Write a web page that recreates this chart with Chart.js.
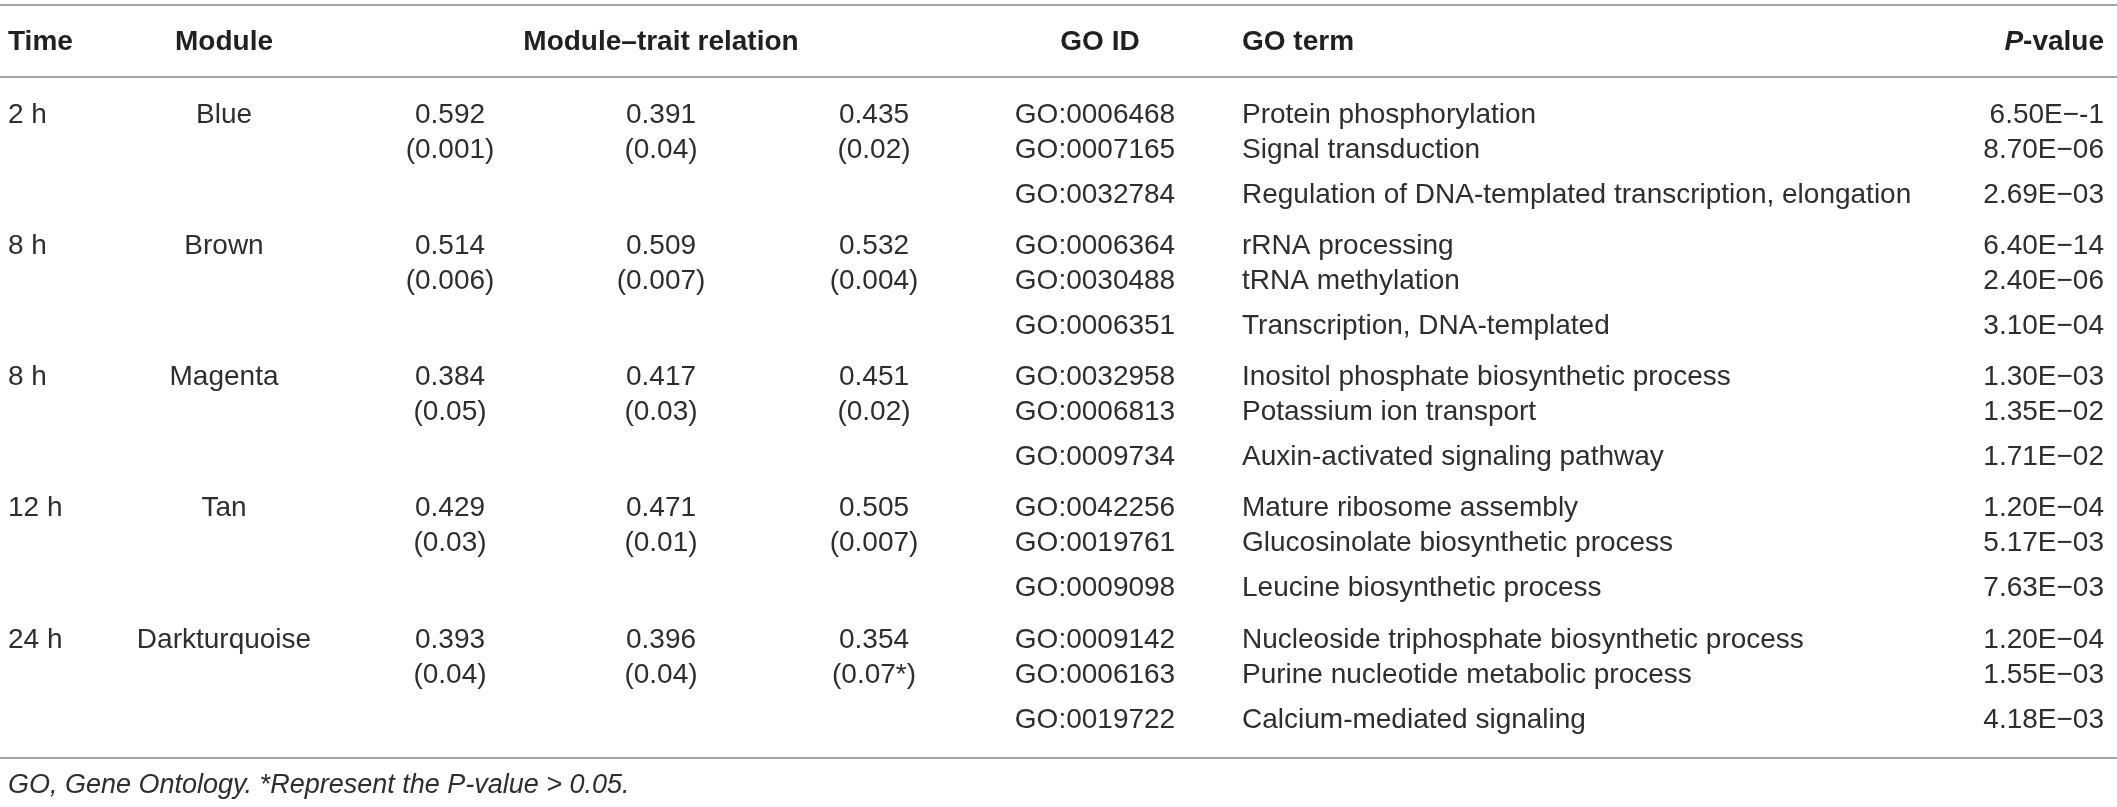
<!DOCTYPE html>
<html>
<head>
<meta charset="utf-8">
<script src="https://cdn.jsdelivr.net/npm/chart.js@4.4.1/dist/chart.umd.min.js"></script>
<style>
    html, body { margin: 0; padding: 0; background: #fff; }
    #wrap { width: 2117px; height: 807px; position: relative; }
</style>
</head>
<body>
<div id="wrap"><canvas id="goTable"></canvas></div>
<script>
// table content
const times = ['2 h', '8 h', '8 h', '12 h', '24 h'];
const modules = ['Blue', 'Brown', 'Magenta', 'Tan', 'Darkturquoise'];
const trait1 = [0.592, 0.514, 0.384, 0.429, 0.393];
const trait2 = [0.391, 0.509, 0.417, 0.471, 0.396];
const trait3 = [0.435, 0.532, 0.451, 0.505, 0.354];
const trait1P = ['0.001', '0.006', '0.05', '0.03', '0.04'];
const trait2P = ['0.04', '0.007', '0.03', '0.01', '0.04'];
const trait3P = ['0.02', '0.004', '0.02', '0.007', '0.07*'];
const goIds = [
    ['GO:0006468', 'GO:0007165', 'GO:0032784'],
    ['GO:0006364', 'GO:0030488', 'GO:0006351'],
    ['GO:0032958', 'GO:0006813', 'GO:0009734'],
    ['GO:0042256', 'GO:0019761', 'GO:0009098'],
    ['GO:0009142', 'GO:0006163', 'GO:0019722']
];
const goTerms = [
    ['Protein phosphorylation', 'Signal transduction', 'Regulation of DNA-templated transcription, elongation'],
    ['rRNA processing', 'tRNA methylation', 'Transcription, DNA-templated'],
    ['Inositol phosphate biosynthetic process', 'Potassium ion transport', 'Auxin-activated signaling pathway'],
    ['Mature ribosome assembly', 'Glucosinolate biosynthetic process', 'Leucine biosynthetic process'],
    ['Nucleoside triphosphate biosynthetic process', 'Purine nucleotide metabolic process', 'Calcium-mediated signaling']
];
const pValues = [
    ['6.50E\u2212-1', '8.70E\u221206', '2.69E\u221203'],
    ['6.40E\u221214', '2.40E\u221206', '3.10E\u221204'],
    ['1.30E\u221203', '1.35E\u221202', '1.71E\u221202'],
    ['1.20E\u221204', '5.17E\u221203', '7.63E\u221203'],
    ['1.20E\u221204', '1.55E\u221203', '4.18E\u221203']
];
const headers = ['Time', 'Module', 'Module\u2013trait relation', 'GO ID', 'GO term', 'P-value'];
const footnote = 'GO, Gene Ontology. *Represent the P-value > 0.05.';

// layout (x in px, y in row-group units)
const colX = { time: 8, module: 224, t1: 450, t2: 661, t3: 874, goId: 1095, goIdHead: 1100, goTerm: 1242, pval: 2104 };
const firstRowPx = 115, groupPx = 131.25;
const subLine = [0, 35 / groupPx, 80 / groupPx];
const headY = -73 / groupPx;
const rules = [-110 / groupPx, -38 / groupPx, 643 / groupPx];
const noteY = 670 / groupPx;

const FONT = '"Liberation Sans", Arial, Helvetica, sans-serif';
const HEAD_INK = '#231f20';
const BODY_INK = '#2e2e2e';

function column(key, align, font, ink, cells) {
    return {
        data: cells.map(c => ({ x: colX[key], y: c[0], text: c[1], parts: c[2] })),
        align: align,
        font: font,
        ink: ink,
        pointRadius: 0,
        showLine: false
    };
}

const body = '28px ' + FONT;
const bold = 'bold 28px ' + FONT;

const datasets = [
    column('time', 'left', bold, HEAD_INK, [[headY, headers[0]]]),
    column('module', 'center', bold, HEAD_INK, [[headY, headers[1]]]),
    column('t2', 'center', bold, HEAD_INK, [[headY, headers[2]]]),
    column('goIdHead', 'center', bold, HEAD_INK, [[headY, headers[3]]]),
    column('goTerm', 'left', bold, HEAD_INK, [[headY, headers[4]]]),
    column('pval', 'right', bold, HEAD_INK, [[headY, headers[5], [['P', 'italic bold 28px ' + FONT], ['-value', bold]]]]),
    column('time', 'left', body, BODY_INK, times.map((t, g) => [g, t])),
    column('module', 'center', body, BODY_INK, modules.map((m, g) => [g, m])),
    column('t1', 'center', body, BODY_INK, trait1.map((v, g) => [g, v.toFixed(3)]).concat(trait1P.map((p, g) => [g + subLine[1], '(' + p + ')']))),
    column('t2', 'center', body, BODY_INK, trait2.map((v, g) => [g, v.toFixed(3)]).concat(trait2P.map((p, g) => [g + subLine[1], '(' + p + ')']))),
    column('t3', 'center', body, BODY_INK, trait3.map((v, g) => [g, v.toFixed(3)]).concat(trait3P.map((p, g) => [g + subLine[1], '(' + p + ')']))),
    column('goId', 'center', body, BODY_INK, goIds.flatMap((ids, g) => ids.map((id, k) => [g + subLine[k], id]))),
    column('goTerm', 'left', body, BODY_INK, goTerms.flatMap((ts, g) => ts.map((t, k) => [g + subLine[k], t]))),
    column('pval', 'right', body, BODY_INK, pValues.flatMap((ps, g) => ps.map((p, k) => [g + subLine[k], p]))),
    column('time', 'left', 'italic 27px ' + FONT, BODY_INK, [[noteY, footnote]])
];

const tableRules = {
    id: 'tableRules',
    beforeDatasetsDraw(chart) {
        const ctx = chart.ctx;
        const y = chart.scales.y;
        ctx.save();
        ctx.strokeStyle = '#a3a3a3';
        ctx.lineWidth = 2;
        rules.forEach(r => {
            const py = Math.round(y.getPixelForValue(r));
            ctx.beginPath();
            ctx.moveTo(chart.chartArea.left, py);
            ctx.lineTo(chart.chartArea.right, py);
            ctx.stroke();
        });
        ctx.restore();
    }
};

const tableText = {
    id: 'tableText',
    afterDatasetsDraw(chart) {
        const ctx = chart.ctx;
        ctx.save();
        ctx.textBaseline = 'middle';
        chart.data.datasets.forEach((ds, i) => {
            const meta = chart.getDatasetMeta(i);
            ctx.fillStyle = ds.ink;
            meta.data.forEach((pt, j) => {
                const cell = ds.data[j];
                if (cell.parts) {
                    // mixed italic/bold header
                    let w = 0;
                    cell.parts.forEach(p => { ctx.font = p[1]; w += ctx.measureText(p[0]).width; });
                    let x = ds.align === 'right' ? pt.x - w : ds.align === 'center' ? pt.x - w / 2 : pt.x;
                    ctx.textAlign = 'left';
                    cell.parts.forEach(p => {
                        ctx.font = p[1];
                        ctx.fillText(p[0], x, pt.y);
                        x += ctx.measureText(p[0]).width;
                    });
                } else {
                    ctx.font = ds.font;
                    ctx.textAlign = ds.align;
                    ctx.fillText(cell.text, pt.x, pt.y);
                }
            });
        });
        ctx.restore();
    }
};

const ctx = document.getElementById('goTable').getContext('2d');
const goChart = new Chart(ctx, {
    type: 'scatter',
    plugins: [tableRules, tableText],
    data: { datasets: datasets },
    options: {
        responsive: true,
        maintainAspectRatio: false,
        animation: false,
        events: [],
        layout: { padding: 0 },
        plugins: {
            legend: { display: false },
            tooltip: { enabled: false },
            title: { display: false }
        },
        scales: {
            x: { type: 'linear', display: false, min: 0, max: 2117 },
            y: { type: 'linear', display: false, reverse: true,
                 min: -firstRowPx / groupPx, max: (807 - firstRowPx) / groupPx }
        }
    }
});
</script>
</body>
</html>
